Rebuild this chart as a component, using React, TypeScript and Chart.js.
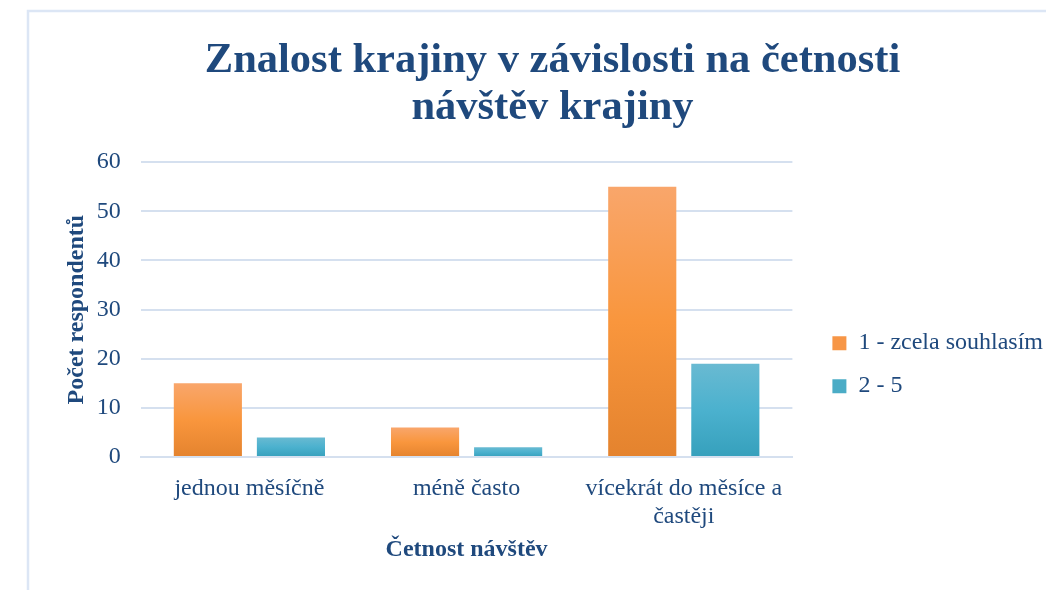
import React, { useEffect, useRef } from "react";
import { Chart, registerables } from "chart.js";

Chart.register(...registerables);

const categories: (string | string[])[] = [
  "jednou měsíčně",
  "méně často",
  ["vícekrát do měsíce a", "častěji"],
];
const seriesNames = ["1 - zcela souhlasím", "2 - 5"];
const series1 = [15, 6, 55];
const series2 = [4, 2, 19];
const yTicks = [0, 10, 20, 30, 40, 50, 60];
const titleLines = ["Znalost krajiny v závislosti na četnosti", "návštěv krajiny"];
const xTitle = "Četnost návštěv";
const yTitle = "Počet respondentů";

const TEXT = "#1F497D";
const FONT = "'Liberation Serif', 'Times New Roman', serif";
const GRID = "#D5E0EF";

const orangeStops = ["#F9A66B", "#F9963D", "#E4832E"];
const tealStops = ["#69BAD2", "#4BB1CE", "#36A0BC"];
const legendColors = ["#F79646", "#4BACC6"];

function gradientFor(stops: string[]) {
  return (ctx: any) => {
    const chart = ctx.chart;
    if (!chart.chartArea || ctx.type !== "data") return stops[1];
    const y = chart.scales.y;
    const v = ctx.raw as number;
    const top = y.getPixelForValue(v);
    const bottom = y.getPixelForValue(0);
    if (!isFinite(top) || !isFinite(bottom) || top === bottom) return stops[1];
    const g = chart.ctx.createLinearGradient(0, top, 0, bottom);
    g.addColorStop(0, stops[0]);
    g.addColorStop(0.5, stops[1]);
    g.addColorStop(1, stops[2]);
    return g;
  };
}

const frame = {
  id: "frame",
  beforeDraw(chart: any) {
    const c = chart.ctx;
    c.save();
    c.fillStyle = "#ffffff";
    c.fillRect(0, 0, chart.width, chart.height);
    c.strokeStyle = "#DCE6F5";
    c.lineWidth = 2.5;
    c.beginPath();
    c.moveTo(28, chart.height);
    c.lineTo(28, 11);
    c.lineTo(chart.width, 11);
    c.stroke();
    c.restore();
  },
};

export default function App() {
  const ref = useRef<HTMLCanvasElement>(null);
  useEffect(() => {
    const chart = new Chart(ref.current!, {
      type: "bar",
      data: {
        labels: categories as any,
        datasets: [
          {
            label: seriesNames[0],
            data: series1,
            backgroundColor: gradientFor(orangeStops) as any,
            categoryPercentage: 0.765,
            barPercentage: 0.82,
          },
          {
            label: seriesNames[1],
            data: series2,
            backgroundColor: gradientFor(tealStops) as any,
            categoryPercentage: 0.765,
            barPercentage: 0.82,
          },
        ],
      },
      options: {
        responsive: false,
        animation: false,
        layout: { padding: { left: 52, right: -7, top: 0, bottom: 26 } },
        plugins: {
          title: {
            display: true,
            text: titleLines,
            color: TEXT,
            font: { family: FONT, size: 42.5, weight: "bold", lineHeight: 1.12 },
            padding: { top: 37, bottom: 30 },
          },
          legend: {
            position: "right",
            maxWidth: 320,
            title: {
              display: true,
              text: "",
              font: { size: 12, lineHeight: 1.2 },
              padding: { top: 151, bottom: 0 },
            },
            labels: {
              color: TEXT,
              font: { family: FONT, size: 24 },
              boxWidth: 14,
              boxHeight: 14,
              padding: 19,
              generateLabels: () =>
                seriesNames.map((n, i) => ({
                  text: n,
                  fillStyle: legendColors[i],
                  strokeStyle: "rgba(0,0,0,0)",
                  lineWidth: 0,
                  datasetIndex: i,
                  fontColor: TEXT,
                })) as any,
            },
          },
          tooltip: { enabled: false },
        },
        scales: {
          x: {
            grid: { display: false, drawTicks: false },
            border: { display: true, color: GRID, width: 2 },
            ticks: {
              color: TEXT,
              font: { family: FONT, size: 24, lineHeight: 1.17 },
              padding: 18,
              maxRotation: 0,
            },
            title: {
              display: true,
              text: xTitle,
              color: TEXT,
              font: { family: FONT, size: 24, weight: "bold" },
              padding: { top: -14, bottom: 0 },
            },
          },
          y: {
            min: 0,
            max: 60,
            afterBuildTicks: (s: any) => {
              s.ticks = yTicks.map((v) => ({ value: v }));
            },
            grid: { color: GRID, lineWidth: 2, drawTicks: false },
            border: { display: false },
            ticks: {
              color: TEXT,
              font: { family: FONT, size: 24 },
              padding: 20,
            },
            title: {
              display: true,
              text: yTitle,
              color: TEXT,
              font: { family: FONT, size: 24, weight: "bold" },
              padding: { top: 10, bottom: -14 },
            },
          },
          y2: {
            position: "right",
            display: true,
            grid: { display: false, drawTicks: false },
            border: { display: false },
            ticks: { display: false },
            afterFit: (s: any) => {
              s.width = 21;
            },
          } as any,
        },
      },
      plugins: [frame],
    });
    return () => chart.destroy();
  }, []);
  return (
    <div style={{ position: "fixed", left: 0, top: 0, width: 1046, height: 590, background: "#fff" }}>
      <canvas ref={ref} width={1046} height={590} />
    </div>
  );
}
